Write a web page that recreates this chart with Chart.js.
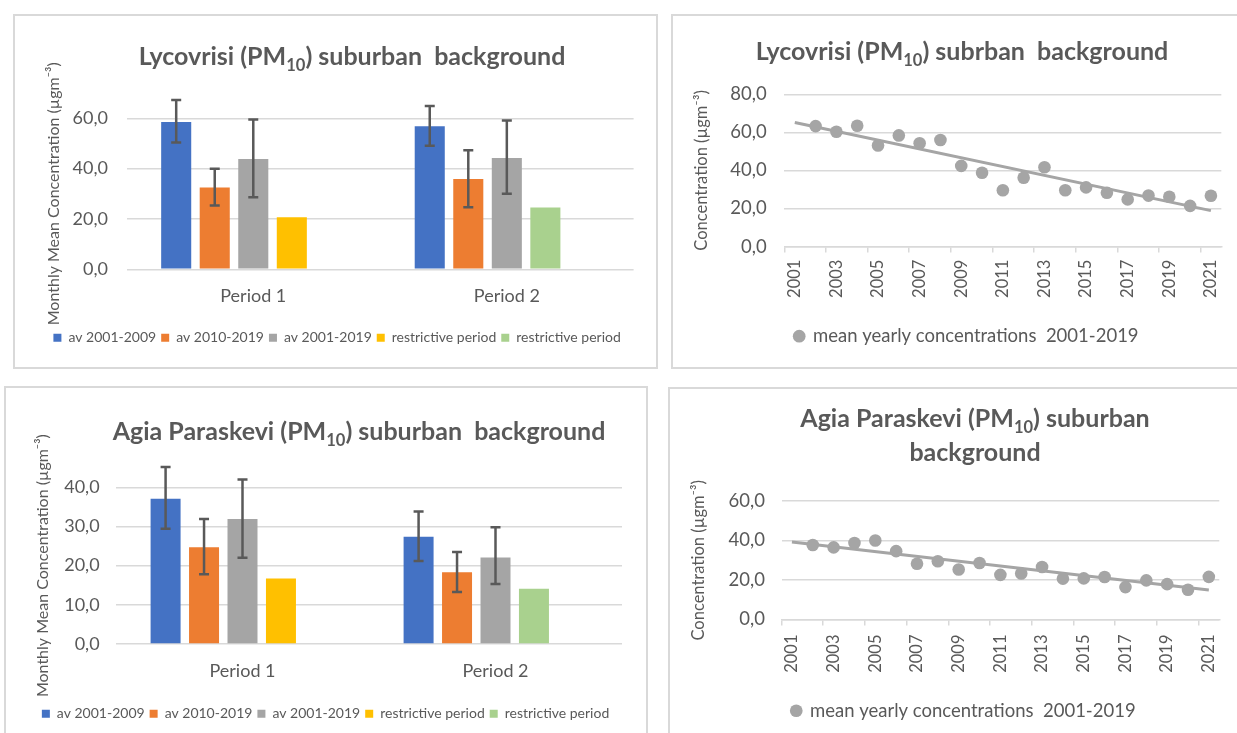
<!DOCTYPE html>
<html lang="en">
<head>
    <meta charset="UTF-8">
    <title>PM10 Lycovrisi / Agia Paraskevi</title>
    <script src="https://cdn.jsdelivr.net/npm/chart.js"></script>
    <style>
        body {
            margin: 0;
            width: 1237px;
            height: 733px;
            overflow: hidden;
            position: relative;
            background: #fff;
            font-family: Lato, "Open Sans", sans-serif;
        }
        .panel {
            position: absolute;
            box-sizing: border-box;
            border: 2px solid #d9d9d9;
            background: #fff;
        }
        .panel canvas {
            position: absolute;
            left: 0;
            top: 0;
        }
        .titulo {
            position: absolute;
            transform: translate(-50%, -50%);
            font-weight: bold;
            font-size: 25px;
            color: #595959;
            white-space: pre;
            line-height: 1;
        }
        .titulo .sub {
            font-size: 0.66em;
            position: relative;
            top: 0.35em;
        }
    </style>
</head>
<body>

    <div class="panel" style="left:13px; top:14px; width:645px; height:355px;">
        <canvas id="lycBars" width="641" height="351"></canvas>
    </div>
    <div class="panel" style="left:671px; top:14px; width:569px; height:355px;">
        <canvas id="lycYears" width="565" height="351"></canvas>
    </div>
    <div class="panel" style="left:4px; top:386px; width:644px; height:354px;">
        <canvas id="agiaBars" width="640" height="350"></canvas>
    </div>
    <div class="panel" style="left:668px; top:387px; width:572px; height:354px;">
        <canvas id="agiaYears" width="568" height="350"></canvas>
    </div>

    <div class="titulo" style="left:352px; top:55px;">Lycovrisi (PM<span class="sub">10</span>) suburban  background</div>
    <div class="titulo" style="left:962px; top:50px;">Lycovrisi (PM<span class="sub">10</span>) subrban  background</div>
    <div class="titulo" style="left:359px; top:430px;">Agia Paraskevi (PM<span class="sub">10</span>) suburban  background</div>
    <div class="titulo" style="left:975px; top:417px;">Agia Paraskevi (PM<span class="sub">10</span>) suburban</div>
    <div class="titulo" style="left:975px; top:451px;">background</div>

    <script>
        // --- datos ---
        const periods = ['Period 1', 'Period 2'];
        const seriesNames = ['av 2001-2009', 'av 2010-2019', 'av 2001-2019', 'restrictive period', 'restrictive period'];

        // Lycovrisi, monthly means
        const lycAv0109 = [58.5, 56.8];
        const lycAv1019 = [32.5, 35.9];
        const lycAv0119 = [43.8, 44.2];
        const lycRestrictive = [20.7, 24.6];
        // error bars [low, high]
        const lycErr0109 = [[50.4, 67.3], [49.1, 64.9]];
        const lycErr1019 = [[25.4, 40.0], [24.7, 47.3]];
        const lycErr0119 = [[28.6, 59.5], [30.0, 59.1]];

        // Agia Paraskevi, monthly means
        const agiaAv0109 = [37.1, 27.4];
        const agiaAv1019 = [24.7, 18.3];
        const agiaAv0119 = [31.9, 22.1];
        const agiaRestrictive = [16.7, 14.1];
        const agiaErr0109 = [[29.4, 45.2], [21.2, 33.8]];
        const agiaErr1019 = [[17.8, 31.9], [13.3, 23.5]];
        const agiaErr0119 = [[22.0, 42.0], [15.3, 29.8]];

        const years = ['2001', '2002', '2003', '2004', '2005', '2006', '2007', '2008', '2009', '2010', '2011',
                       '2012', '2013', '2014', '2015', '2016', '2017', '2018', '2019', '2020', '2021'];
        const lycYearly = [null, 63.3, 60.3, 63.5, 53.1, 58.4, 54.3, 56.0, 42.4, 38.8, 29.6,
                           36.2, 41.7, 29.6, 31.1, 28.3, 24.8, 26.8, 26.2, 21.4, 26.7];
        const lycTrend = [65.2, null, null, null, null, null, null, null, null, null, null,
                          null, null, null, null, null, null, null, null, null, 18.9];
        const agiaYearly = [null, 37.7, 36.5, 38.7, 40.0, 34.6, 28.2, 29.5, 25.3, 28.6, 22.6,
                            23.3, 26.6, 20.7, 20.8, 21.5, 16.4, 19.8, 17.9, 15.1, 21.6];
        const agiaTrend = [39.2, null, null, null, null, null, null, null, null, null, null,
                           null, null, null, null, null, null, null, null, null, 14.9];

        // --- estilos ---
        const barColors = ['#4472C4', '#ED7D31', '#A5A5A5'];
        const restrictiveColors = ['#FFC000', '#A9D18E'];
        const textColor = '#595959';
        const gridColor = '#d9d9d9';
        const pointColor = '#A5A5A5';

        Chart.defaults.font.family = 'Lato, "Open Sans", sans-serif';
        Chart.defaults.color = textColor;

        const formatComma = v => v.toFixed(1).replace('.', ',');

        const errorBarsPlugin = {
            id: 'errorBars',
            afterDatasetsDraw(chart, args, opts) {
                const ctx = chart.ctx;
                const yScale = chart.scales.y;
                ctx.save();
                ctx.strokeStyle = opts.color;
                ctx.lineWidth = opts.width;
                chart.data.datasets.forEach((ds, i) => {
                    if (!ds.errorBars) return;
                    chart.getDatasetMeta(i).data.forEach((bar, j) => {
                        const yLo = yScale.getPixelForValue(ds.errorBars[j][0]);
                        const yHi = yScale.getPixelForValue(ds.errorBars[j][1]);
                        ctx.beginPath();
                        ctx.moveTo(bar.x, yLo);
                        ctx.lineTo(bar.x, yHi);
                        ctx.moveTo(bar.x - opts.cap, yLo);
                        ctx.lineTo(bar.x + opts.cap, yLo);
                        ctx.moveTo(bar.x - opts.cap, yHi);
                        ctx.lineTo(bar.x + opts.cap, yHi);
                        ctx.stroke();
                    });
                });
                ctx.restore();
            }
        };

        function crearBarras(canvasId, values, errors, yMax, yStep, g) {
            new Chart(document.getElementById(canvasId), {
                type: 'bar',
                data: {
                    labels: periods,
                    datasets: [
                        { label: seriesNames[0], data: values[0], backgroundColor: barColors[0], errorBars: errors[0] },
                        { label: seriesNames[1], data: values[1], backgroundColor: barColors[1], errorBars: errors[1] },
                        { label: seriesNames[2], data: values[2], backgroundColor: barColors[2], errorBars: errors[2] },
                        {
                            label: seriesNames[3],
                            data: values[3],
                            backgroundColor: c => c.type === 'data' ? restrictiveColors[c.dataIndex] : restrictiveColors[0]
                        },
                        { label: seriesNames[4], data: [null, null], backgroundColor: restrictiveColors[1] }
                    ]
                },
                options: {
                    responsive: false,
                    animation: false,
                    layout: { padding: { left: g.padLeft, right: g.padRight, top: g.padTop, bottom: g.padBottom } },
                    datasets: { bar: { categoryPercentage: 0.76, barPercentage: 0.78 } },
                    scales: {
                        x: {
                            grid: { display: false, drawTicks: false },
                            border: { display: false },
                            ticks: { font: { size: 18 }, padding: g.xPad },
                            afterFit: s => { s.height = g.xHeight; }
                        },
                        y: {
                            min: 0,
                            max: yMax,
                            ticks: { stepSize: yStep, callback: formatComma, font: { size: 18 }, padding: g.yPad },
                            grid: { color: gridColor, lineWidth: 1.5, drawTicks: false },
                            border: { display: false },
                            title: { display: true, text: 'Monthly Mean Concentration (µgm⁻³)', font: { size: 16 } },
                            afterFit: s => { s.width = g.yWidth; }
                        }
                    },
                    plugins: {
                        legend: {
                            position: 'bottom',
                            labels: { boxWidth: 8, boxHeight: 8, padding: 5, font: { size: 14 } }
                        },
                        tooltip: { enabled: false },
                        errorBars: { color: '#595959', width: 2.5, cap: 5 }
                    }
                },
                plugins: [errorBarsPlugin]
            });
        }

        function crearDispersion(canvasId, yearly, trend, yMax, g) {
            new Chart(document.getElementById(canvasId), {
                type: 'line',
                data: {
                    labels: years,
                    datasets: [
                        {
                            label: 'mean yearly concentrations  2001-2019',
                            data: yearly,
                            showLine: false,
                            pointRadius: 6.3,
                            pointBorderWidth: 0,
                            pointBackgroundColor: pointColor,
                            backgroundColor: pointColor,
                            borderColor: pointColor
                        },
                        {
                            label: 'trend',
                            data: trend,
                            spanGaps: true,
                            borderColor: pointColor,
                            borderWidth: 3,
                            pointRadius: 0
                        }
                    ]
                },
                options: {
                    responsive: false,
                    animation: false,
                    layout: { padding: { left: g.padLeft, right: g.padRight, top: g.padTop, bottom: g.padBottom } },
                    scales: {
                        x: {
                            offset: true,
                            grid: {
                                offset: true,
                                drawOnChartArea: false,
                                tickLength: 6,
                                lineWidth: 1.5,
                                color: c => c.index % 2 === 0 ? gridColor : 'rgba(0,0,0,0)'
                            },
                            border: { display: true, color: gridColor, width: 1.5 },
                            ticks: {
                                autoSkip: false,
                                minRotation: 90,
                                maxRotation: 90,
                                font: { size: 16.5 },
                                padding: g.xPad,
                                callback: (v, i) => i % 2 === 0 ? years[i] : ''
                            },
                            afterFit: s => { s.height = g.xHeight; }
                        },
                        y: {
                            min: 0,
                            max: yMax,
                            ticks: { stepSize: 20, callback: formatComma, font: { size: 18.5 }, padding: g.yPad },
                            grid: { color: gridColor, lineWidth: 1.5, drawTicks: false },
                            border: { display: false },
                            // title pulled left so the legend can sit further right, like the original
                            title: { display: true, text: 'Concentration (µgm⁻³)', font: { size: 16.5 }, padding: { top: -16, bottom: 4 } },
                            afterFit: s => { s.width = g.yWidth; }
                        }
                    },
                    plugins: {
                        legend: {
                            position: 'bottom',
                            labels: {
                                usePointStyle: true,
                                pointStyle: 'circle',
                                boxWidth: 9,
                                boxHeight: 9,
                                padding: 10,
                                font: { size: 18.5 },
                                filter: item => item.datasetIndex === 0
                            }
                        },
                        tooltip: { enabled: false }
                    }
                }
            });
        }

        document.addEventListener('DOMContentLoaded', function () {
            crearBarras('lycBars',
                [lycAv0109, lycAv1019, lycAv0119, lycRestrictive],
                [lycErr0109, lycErr1019, lycErr0119], 60, 20,
                { padLeft: 25.6, padRight: 22.4, padTop: 102.3, padBottom: 12.3, yWidth: 85.9, yPad: 18.5, xPad: 15.9, xHeight: 56.4 });

            crearBarras('agiaBars',
                [agiaAv0109, agiaAv1019, agiaAv0119, agiaRestrictive],
                [agiaErr0109, agiaErr1019, agiaErr0119], 40, 10,
                { padLeft: 23.1, padRight: 24, padTop: 99.3, padBottom: 7.3, yWidth: 86.9, yPad: 16.4, xPad: 16.2, xHeight: 57.7 });

            crearDispersion('lycYears', lycYearly, lycTrend, 80,
                { padLeft: 34.6, padRight: 12.3, padTop: 78.3, padBottom: 11.6, yWidth: 76.8, yPad: 17.7, xPad: 7, xHeight: 70.3 });

            crearDispersion('agiaYears', agiaYearly, agiaTrend, 60,
                { padLeft: 34.6, padRight: 15.2, padTop: 112, padBottom: 9, yWidth: 76.9, yPad: 16.5, xPad: 9, xHeight: 72 });
        });
    </script>
</body>
</html>
